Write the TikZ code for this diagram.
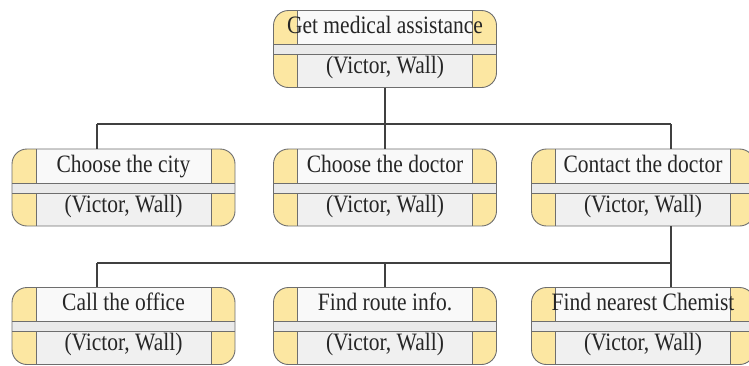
\documentclass[tikz,border=0pt]{standalone}
\usepackage{fontspec}
\setmainfont[FakeStretch=0.86]{Liberation Serif}
\usepackage{tikz}
\usetikzlibrary{positioning}

\definecolor{boxtop}{HTML}{F9F9F9}
\definecolor{boxlow}{HTML}{F0F0F0}
\definecolor{boxband}{HTML}{EAEAEA}
\definecolor{boxside}{HTML}{FCE7A2}
\definecolor{boxedge}{HTML}{6E6E6E}

\tikzset{
  taskbox/.style={draw=boxedge, line width=0.9pt, fill=boxtop,
    rounded corners=15pt, minimum width=223pt, minimum height=77pt,
    inner sep=0pt, align=center, text=black!85,
    font=\fontsize{25}{40}\selectfont, text depth=8pt,
    path picture={
      \begin{scope}[sharp corners]
      \coordinate (bnw) at (path picture bounding box.north west);
      \fill[boxlow] ([xshift=24pt,yshift=-44pt]bnw) rectangle ++(175,-33);
      \fill[boxband] ([yshift=-34pt]bnw) rectangle ++(223,-10);
      \fill[boxside] (bnw) rectangle ++(24,-34);
      \fill[boxside] ([yshift=-44pt]bnw) rectangle ++(24,-33);
      \fill[boxside] ([xshift=199pt]bnw) rectangle ++(24,-34);
      \fill[boxside] ([xshift=199pt,yshift=-44pt]bnw) rectangle ++(24,-33);
      \draw[boxedge, line width=0.7pt] ([yshift=-34pt]bnw) -- ++(223,0)
        ([yshift=-44pt]bnw) -- ++(223,0)
        ([xshift=24pt]bnw) -- ++(0,-34) ([xshift=24pt,yshift=-44pt]bnw) -- ++(0,-33)
        ([xshift=199pt]bnw) -- ++(0,-34) ([xshift=199pt,yshift=-44pt]bnw) -- ++(0,-33);
      \end{scope}
    }},
  link/.style={draw=black!75, line width=1.1pt}
}

\begin{document}
\begin{tikzpicture}[x=1pt, y=1pt]
  \clip (0,0) rectangle (749,-365);
  \fill[white] (0,0) rectangle (749,-365);

  % goal and sub-tasks
  \node[taskbox] (goal) at (385,-49) {Get medical assistance\\(Victor, Wall)};
  \node[taskbox] (city) at (123.5,-187.5) {Choose the city\\(Victor, Wall)};
  \node[taskbox] (doctor) at (385,-187.5) {Choose the doctor\\(Victor, Wall)};
  \node[taskbox] (contact) at (643,-187.5) {Contact the doctor\\(Victor, Wall)};
  \node[taskbox] (office) at (123.5,-326) {Call the office\\(Victor, Wall)};
  \node[taskbox] (route) at (385,-326) {Find route info.\\(Victor, Wall)};
  \node[taskbox] (chemist) at (643,-326) {Find nearest Chemist\\(Victor, Wall)};

  % bus taps
  \coordinate (tapA) at (97,-124);
  \coordinate (tapB) at (671,-124);
  \coordinate (tapC) at (97,-263);
  \coordinate (tapD) at (671,-263);

  \draw[link] (goal.south) -- (goal.south |- tapA);
  \draw[link] (tapA) -- (tapB);
  \draw[link] (tapA) -- (tapA |- city.north);
  \draw[link] (doctor.north |- tapA) -- (doctor.north);
  \draw[link] (tapB) -- (tapB |- contact.north);

  \draw[link] (tapB |- contact.south) -- (tapD);
  \draw[link] (tapC) -- (tapD);
  \draw[link] (tapC) -- (tapC |- office.north);
  \draw[link] (route.north |- tapC) -- (route.north);
  \draw[link] (tapD) -- (tapD |- chemist.north);
\end{tikzpicture}
\end{document}
